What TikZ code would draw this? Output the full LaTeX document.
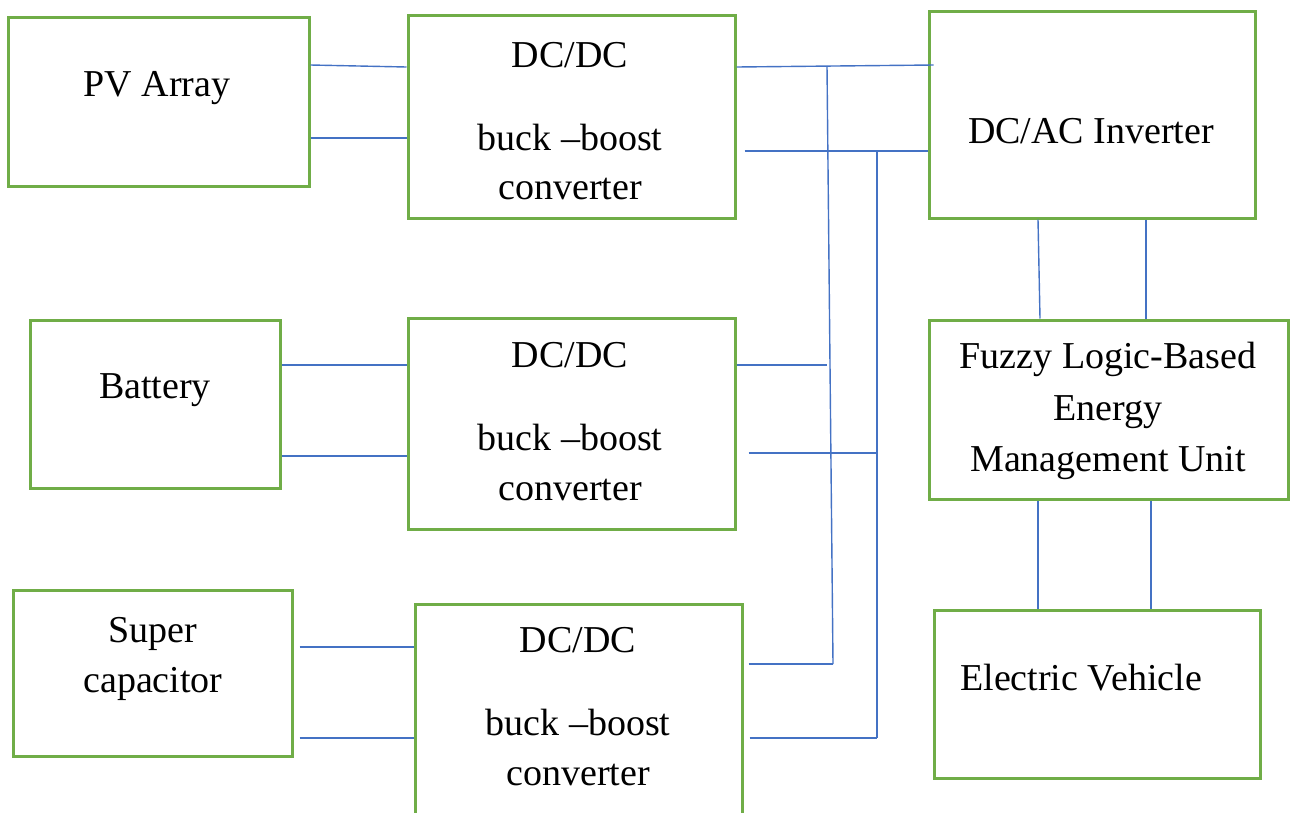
\documentclass[tikz,border=0pt]{standalone}
\usepackage{fontspec}
\setmainfont{Liberation Serif}
\definecolor{boxgreen}{HTML}{70AD47}
\definecolor{wireblue}{HTML}{4472C4}
\begin{document}
\begin{tikzpicture}[x=1pt,y=-1pt,
  blk/.style={draw=boxgreen, line width=3pt, inner sep=0pt, fill=none},
  wire/.style={draw=wireblue, line width=1.4pt},
  lbl/.style={anchor=base, inner sep=0pt, font=\fontsize{38}{50}\selectfont}]
\useasboundingbox (0,0) rectangle (1290,812);
% boxes
\node[blk, minimum width=301, minimum height=169] (pv)  at (158.5,101.5) {};
\node[blk, minimum width=327, minimum height=203] (dc1) at (571.5,116.5) {};
\node[blk, minimum width=326, minimum height=207] (inv) at (1092,114.5) {};
\node[blk, minimum width=250, minimum height=168] (bat) at (155,404) {};
\node[blk, minimum width=327, minimum height=211] (dc2) at (571.5,423.5) {};
\node[blk, minimum width=359, minimum height=179] (fz)  at (1108.5,409.5) {};
\node[blk, minimum width=279, minimum height=166] (sc)  at (152.5,673) {};
\node[blk, minimum width=327, minimum height=230] (dc3) at (578.5,719) {};
\node[blk, minimum width=326, minimum height=168] (ev)  at (1097,694) {};
% labels
\node[lbl] (tpv) at (157,96) {PV Array};
\node[lbl] (t1a) at (570,67) {DC/DC};
\node[lbl] (t1b) at (570,150) {buck –boost};
\node[lbl] (t1c) at (570,199) {converter};
\node[lbl] (tinv) at (1091,143) {DC/AC Inverter};
\node[lbl] (tbat) at (155,398) {Battery};
\node[lbl] (t2a) at (570,367) {DC/DC};
\node[lbl] (t2b) at (570,450) {buck –boost};
\node[lbl] (t2c) at (570,500) {converter};
\node[lbl] (tfa) at (1108,368) {Fuzzy Logic-Based};
\node[lbl] (tfb) at (1108,420) {Energy};
\node[lbl] (tfc) at (1108,471) {Management Unit};
\node[lbl] (tsa) at (153,642) {Super};
\node[lbl] (tsb) at (153,692) {capacitor};
\node[lbl] (t3a) at (578,652) {DC/DC};
\node[lbl] (t3b) at (578,735) {buck –boost};
\node[lbl] (t3c) at (578,785) {converter};
\node[lbl] (tev) at (1081,690) {Electric Vehicle};
% bus junctions
\coordinate (b1t) at (827,66);
\coordinate (b1b) at (833,664);
\coordinate (b2t) at (877,151);
\coordinate (b2b) at (877,738);
% wires: sources to converters
\draw[wire] (pv.east |- 0,65) -- (dc1.west |- 0,67);
\draw[wire] (pv.east |- 0,138) -- (dc1.west |- 0,138);
\draw[wire] (bat.east |- 0,365) -- (dc2.west |- 0,365);
\draw[wire] (bat.east |- 0,456) -- (dc2.west |- 0,456);
\draw[wire] ([xshift=6pt]sc.east |- 0,647) -- (dc3.west |- 0,647);
\draw[wire] ([xshift=6pt]sc.east |- 0,738) -- (dc3.west |- 0,738);
% wires: converters to inverter bus
\draw[wire] (dc1.east |- 0,67) -- ([xshift=6pt]inv.west |- 0,65);
\draw[wire] ([xshift=8pt]dc1.east |- 0,151) -- (inv.west |- 0,151);
\draw[wire] (b1t) -- (b1b);
\draw[wire] (b2t) -- (b2b);
\draw[wire] (dc2.east |- 0,365) -- (827,365);
\draw[wire] ([xshift=12pt]dc2.east |- 0,453) -- (877,453);
\draw[wire] ([xshift=5pt]dc3.east |- 0,664) -- (b1b);
\draw[wire] ([xshift=6pt]dc3.east |- 0,738) -- (b2b);
% inverter to EMS, EMS to EV
\draw[wire] (inv.south -| 1038,0) -- (fz.north -| 1040,0);
\draw[wire] (inv.south -| 1146,0) -- (fz.north -| 1146,0);
\draw[wire] (fz.south -| 1038,0) -- (ev.north -| 1038,0);
\draw[wire] (fz.south -| 1151,0) -- (ev.north -| 1151,0);
\end{tikzpicture}
\end{document}
